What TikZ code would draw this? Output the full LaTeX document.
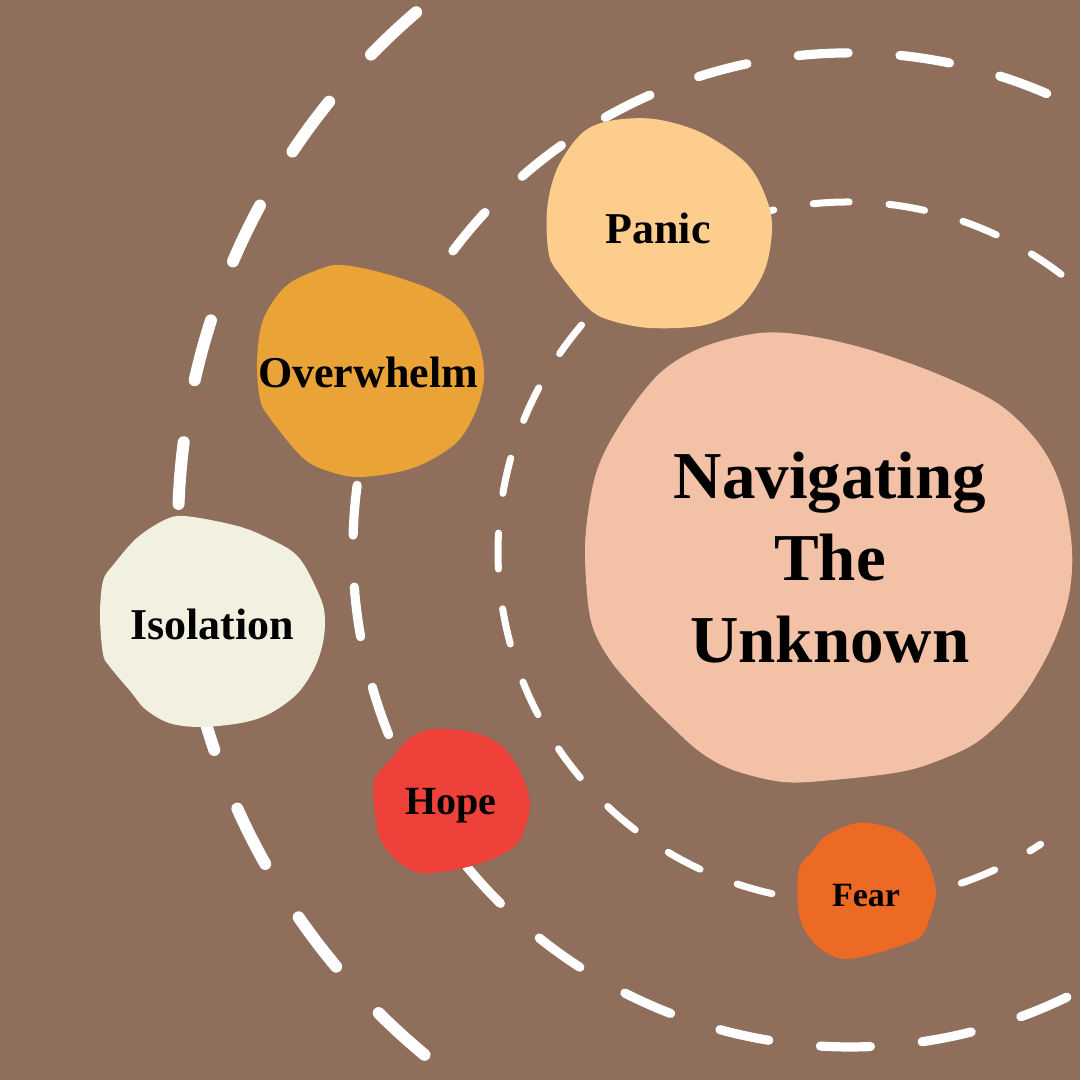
\documentclass[tikz,border=0pt]{standalone}
\usepackage{fontspec}
\setmainfont{Liberation Serif}
\definecolor{bg}{HTML}{8F6F5B}
\definecolor{panicc}{HTML}{FDCD8E}
\definecolor{overc}{HTML}{EAA337}
\definecolor{isoc}{HTML}{F2F0E1}
\definecolor{hopec}{HTML}{EE4139}
\definecolor{fearc}{HTML}{EC6A24}
\definecolor{peach}{HTML}{F2C1A6}
\tikzset{
  dline/.style={draw=white,line cap=round},
  outerln/.style={dline,line width=6pt,dash pattern=on 31pt off 31.5pt},
  midln/.style={dline,line width=4.6pt,dash pattern=on 25pt off 26pt},
  innerln/.style={dline,line width=3.5pt,dash pattern=on 18pt off 20pt},
  blob/.style={smooth cycle,tension=0.55},
  lab/.style={font=\bfseries\fontsize{22}{26}\selectfont,inner sep=0pt,align=center},
}
\begin{document}
\begin{tikzpicture}[x=0.5pt,y=0.5pt]
\path[use as bounding box,fill=bg] (0,0) rectangle (1080,1080);
\clip (0,0) rectangle (1080,1080);
\draw[outerln] (860,550) ++(130.6:682) arc[start angle=130.6,end angle=252,radius=682];
\draw[midln] (850,530) ++(66.7:497) arc[start angle=66.7,end angle=296.6,radius=497];
\draw[innerln] (848,528) ++(52.5:350) arc[start angle=52.5,end angle=303.4,radius=350];
\fill[peach] plot[blob] coordinates {(760,747) (810,744) (870,730) (940,705) (1000,675) (1040,635) (1062,590) (1072,530) (1068,480) (1050,430) (1020,380) (980,340) (940,320) (900,308) (833,300) (783,298) (733,310) (700,328) (670,355) (640,385) (610,420) (592,455) (586,500) (586,550) (597,610) (623,660) (660,707) (703,733)};
\fill[panicc] plot[blob] coordinates {(609,959) (654,961) (702,947) (747,916) (767,880) (772,849) (764,808) (740,773) (705,755) (650,752) (609,760) (588,772) (561,804) (549,825) (547,870) (557,911) (581,946)};
\fill[overc] plot[blob] coordinates {(320,811) (341,815) (379,808) (430,791) (461,770) (479,736) (484,701) (475,667) (455,636) (413,612) (362,603) (331,608) (303,622) (269,663) (260,681) (257,718) (263,760) (286,794)};
\fill[isoc] plot[blob] coordinates {(169,562) (193,563) (241,553) (272,540) (293,528) (306,512) (322,478) (325,457) (322,433) (313,409) (296,385) (269,366) (241,357) (200,353) (169,357) (145,371) (131,388) (110,413) (103,426) (100,464) (103,499) (114,516) (138,543)};
\fill[hopec] plot[blob] coordinates {(424,349) (448,351) (482,345) (506,330) (523,302) (530,275) (523,247) (510,230) (475,215) (434,207) (413,209) (393,223) (379,244) (374,278) (375,302) (393,323) (406,339)};
\fill[fearc] plot[blob] coordinates {(857,257) (891,252) (915,237) (929,215) (936,187) (929,160) (919,142) (884,129) (846,121) (822,130) (805,149) (798,173) (799,211) (812,228) (826,244)};
\node[lab,font=\bfseries\fontsize{33.5}{41}\selectfont] (nav) at (830,522) {Navigating\\The\\Unknown};
\node[lab] (panic) at (658,852) {Panic};
\node[lab] (over) at (368,708) {Overwhelm};
\node[lab] (iso) at (212,456) {Isolation};
\node[lab,font=\bfseries\fontsize{20}{24}\selectfont] (hope) at (451,274) {Hope};
\node[lab,font=\bfseries\fontsize{17}{20}\selectfont] (fear) at (866,184) {Fear};
\end{tikzpicture}
\end{document}
